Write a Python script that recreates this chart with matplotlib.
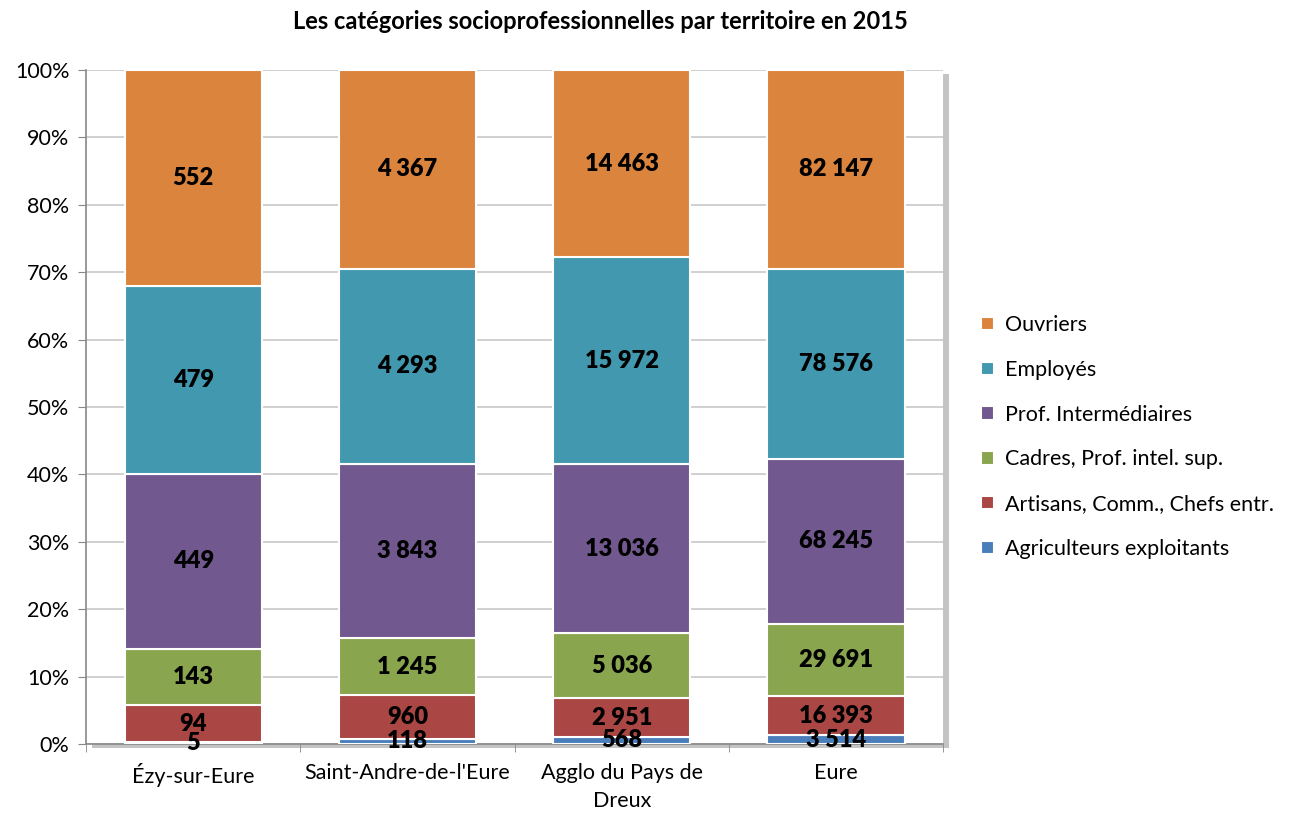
import numpy as np
import matplotlib
matplotlib.use('Agg')
import matplotlib.pyplot as plt
from matplotlib.patches import Rectangle

# --- données ---
territoires = ['Ézy-sur-Eure', "Saint-Andre-de-l'Eure", 'Agglo du Pays de\nDreux', 'Eure']
categories = ['Agriculteurs exploitants', 'Artisans, Comm., Chefs entr.',
              'Cadres, Prof. intel. sup.', 'Prof. Intermédiaires', 'Employés', 'Ouvriers']
agriculteurs = [5, 118, 568, 3514]
artisans = [94, 960, 2951, 16393]
cadres = [143, 1245, 5036, 29691]
prof_inter = [449, 3843, 13036, 68245]
employes = [479, 4293, 15972, 78576]
ouvriers = [552, 4367, 14463, 82147]
couleurs = ['#4A7EBB', '#AA4643', '#89A54E', '#71588F', '#4198AF', '#DB843D']

series = np.array([agriculteurs, artisans, cadres, prof_inter, employes, ouvriers], dtype=float)
totaux = series.sum(axis=0)
parts = series / totaux * 100

plt.rcParams['font.family'] = ['Lato', 'DejaVu Sans']

fig = plt.figure(figsize=(12.92, 8.14), dpi=100)
ax = fig.add_axes([0.0666, 0.086, 0.6634, 0.828])

# ombre de la zone de tracé (droite et bas)
fig.patches.append(Rectangle((0.0666 + 0.0045, 0.086 - 0.005), 0.6634, 0.828,
                             transform=fig.transFigure, facecolor='#c4c4c4',
                             edgecolor='none', zorder=0))
ax.set_facecolor('white')
ax.set_zorder(1)

x = np.arange(len(territoires))
bas = np.zeros(len(territoires))
for i, (nom, coul) in enumerate(zip(categories, couleurs)):
    ax.bar(x, parts[i], 0.64, bottom=bas, color=coul, edgecolor='white',
           linewidth=1.5, label=nom, zorder=3)
    for j in range(len(territoires)):
        txt = f'{int(series[i, j]):,}'.replace(',', ' ')
        ax.text(x[j], bas[j] + parts[i, j] / 2, txt, ha='center', va='center',
                fontsize=17, fontweight='heavy', color='black', zorder=4)
    bas += parts[i]

ax.set_xlim(-0.5, 3.5)
ax.set_ylim(0, 100)
ax.set_yticks(np.arange(0, 101, 10))
ax.set_yticklabels([f'{v}%' for v in range(0, 101, 10)], fontsize=15.5)
ax.set_xticks(x)
ax.set_xticklabels(territoires, fontsize=15.5, linespacing=1.5)
ax.set_xticks(np.arange(-0.5, 3.6, 1), minor=True)
ax.tick_params(axis='x', which='major', length=0, pad=14)
ax.tick_params(axis='x', which='minor', length=6, color='#888888', direction='out')
ax.tick_params(axis='y', length=6, color='#888888', direction='out', pad=6)
ax.grid(True, axis='y', color='#c8c8c8', linewidth=1.2, zorder=0)
ax.set_axisbelow(True)
for s in ['top', 'right']:
    ax.spines[s].set_visible(False)
for s in ['left', 'bottom']:
    ax.spines[s].set_color('#888888')
    ax.spines[s].set_linewidth(1.2)

fig.suptitle('Les catégories socioprofessionnelles par territoire en 2015',
             x=0.465, y=0.988, fontsize=17, fontweight='bold')

handles, labels = ax.get_legend_handles_labels()
fig.legend(handles[::-1], labels[::-1], loc='center left', bbox_to_anchor=(0.744, 0.463),
           frameon=False, fontsize=15.5, handlelength=0.6, handleheight=0.6,
           labelspacing=1.15, handletextpad=0.55)

fig.savefig('out.png', dpi=100)
plt.close(fig)
